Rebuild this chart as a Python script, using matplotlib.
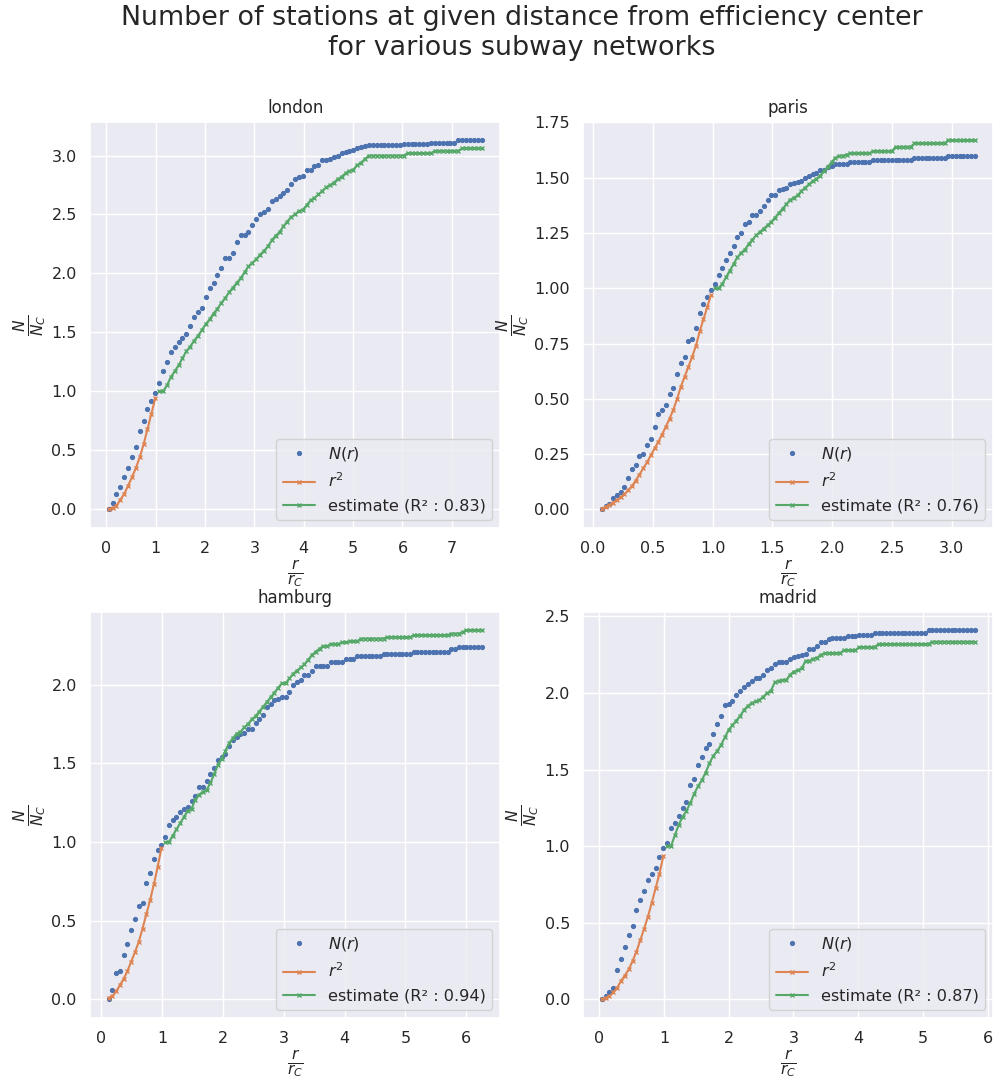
import numpy as np
import matplotlib
matplotlib.use("Agg")
import matplotlib.pyplot as plt
from matplotlib.ticker import MultipleLocator
import seaborn as sns

cities = ["london", "paris", "hamburg", "madrid"]
r_ranges = {"london": (0.05, 7.6), "paris": (0.075, 3.19),
            "hamburg": (0.12, 6.25), "madrid": (0.04, 5.80)}
r_squared = {"london": 0.83, "paris": 0.76, "hamburg": 0.94, "madrid": 0.87}

london_n = [0.00, 0.05, 0.13, 0.19, 0.27, 0.35, 0.44, 0.53, 0.66, 0.75,
            0.85, 0.92, 0.99, 1.07, 1.17, 1.25, 1.33, 1.38, 1.42, 1.45,
            1.49, 1.55, 1.63, 1.67, 1.71, 1.80, 1.88, 1.92, 1.99, 2.05,
            2.13, 2.13, 2.17, 2.27, 2.33, 2.33, 2.35, 2.41, 2.46, 2.50,
            2.52, 2.55, 2.61, 2.63, 2.66, 2.68, 2.71, 2.76, 2.80, 2.82,
            2.83, 2.88, 2.88, 2.91, 2.92, 2.96, 2.96, 2.97, 2.99, 3.00,
            3.02, 3.03, 3.04, 3.05, 3.06, 3.07, 3.08, 3.09, 3.09, 3.09,
            3.09, 3.09, 3.09, 3.09, 3.09, 3.09, 3.10, 3.10, 3.10, 3.10,
            3.10, 3.10, 3.10, 3.11, 3.11, 3.11, 3.11, 3.11, 3.11, 3.11,
            3.13, 3.13, 3.13, 3.13, 3.13, 3.13, 3.13]
london_r2 = [0.00, 0.01, 0.03, 0.08, 0.13, 0.20, 0.27, 0.35, 0.44, 0.55,
             0.68, 0.81, 0.94]
london_est = [1.00, 1.00, 1.05, 1.12, 1.17, 1.22, 1.28, 1.34, 1.38, 1.43,
              1.47, 1.52, 1.57, 1.61, 1.66, 1.70, 1.75, 1.79, 1.84, 1.88,
              1.92, 1.96, 2.01, 2.06, 2.09, 2.12, 2.16, 2.19, 2.23, 2.28,
              2.32, 2.35, 2.40, 2.44, 2.48, 2.50, 2.53, 2.54, 2.58, 2.62,
              2.64, 2.67, 2.70, 2.73, 2.75, 2.77, 2.80, 2.82, 2.85, 2.87,
              2.88, 2.92, 2.94, 2.97, 3.00, 3.00, 3.00, 3.00, 3.00, 3.00,
              3.00, 3.00, 3.00, 3.00, 3.02, 3.02, 3.02, 3.02, 3.02, 3.02,
              3.02, 3.04, 3.04, 3.04, 3.04, 3.04, 3.04, 3.04, 3.06, 3.06,
              3.06, 3.06, 3.06, 3.06]

paris_n = [0.00, 0.015, 0.026, 0.05, 0.065, 0.08, 0.10, 0.14, 0.18, 0.20,
           0.24, 0.25, 0.29, 0.32, 0.37, 0.43, 0.45, 0.47, 0.52, 0.55,
           0.61, 0.66, 0.69, 0.76, 0.77, 0.82, 0.89, 0.93, 0.96, 0.99,
           1.02, 1.06, 1.09, 1.13, 1.16, 1.19, 1.23, 1.25, 1.29, 1.30,
           1.33, 1.33, 1.35, 1.37, 1.40, 1.42, 1.42, 1.445, 1.45, 1.455,
           1.47, 1.475, 1.48, 1.485, 1.50, 1.51, 1.515, 1.52, 1.535, 1.535,
           1.55, 1.555, 1.56, 1.56, 1.56, 1.56, 1.57, 1.57, 1.57, 1.57,
           1.57, 1.57, 1.58, 1.58, 1.58, 1.58, 1.58, 1.58, 1.58, 1.58,
           1.58, 1.58, 1.58, 1.59, 1.59, 1.59, 1.59, 1.59, 1.59, 1.59,
           1.59, 1.59, 1.60, 1.60, 1.60, 1.60, 1.60, 1.60, 1.60, 1.60]
paris_r2 = [0.003, 0.011, 0.02, 0.03, 0.042, 0.054, 0.068, 0.086, 0.105, 0.13,
            0.157, 0.185, 0.212, 0.244, 0.275, 0.305, 0.338, 0.374, 0.41, 0.45,
            0.50, 0.555, 0.60, 0.645, 0.69, 0.74, 0.805, 0.86, 0.915, 0.97]
paris_est = [1.00, 1.00, 1.02, 1.05, 1.08, 1.11, 1.14, 1.16, 1.175, 1.20,
             1.22, 1.24, 1.255, 1.27, 1.285, 1.30, 1.32, 1.34, 1.36, 1.38,
             1.40, 1.41, 1.42, 1.44, 1.455, 1.47, 1.485, 1.495, 1.51, 1.53,
             1.55, 1.57, 1.59, 1.60, 1.60, 1.605, 1.61, 1.61, 1.61, 1.61,
             1.61, 1.61, 1.62, 1.62, 1.62, 1.62, 1.62, 1.62, 1.64, 1.64,
             1.64, 1.64, 1.64, 1.655, 1.655, 1.655, 1.655, 1.655, 1.655, 1.655,
             1.655, 1.655, 1.67, 1.67, 1.67, 1.67, 1.67, 1.67, 1.67, 1.67]

hamburg_n = [0.00, 0.06, 0.17, 0.18, 0.28, 0.35, 0.44, 0.51, 0.59, 0.61,
             0.74, 0.80, 0.89, 0.95, 0.98, 1.03, 1.11, 1.14, 1.16, 1.19,
             1.21, 1.22, 1.26, 1.29, 1.35, 1.35, 1.39, 1.43, 1.47, 1.52,
             1.54, 1.56, 1.61, 1.65, 1.67, 1.69, 1.695, 1.72, 1.72, 1.755,
             1.78, 1.81, 1.86, 1.88, 1.90, 1.91, 1.92, 1.925, 1.955, 2.00,
             2.015, 2.03, 2.06, 2.06, 2.09, 2.12, 2.12, 2.12, 2.12, 2.147,
             2.147, 2.147, 2.147, 2.166, 2.166, 2.166, 2.183, 2.183, 2.183, 2.183,
             2.183, 2.183, 2.183, 2.198, 2.198, 2.198, 2.198, 2.198, 2.198, 2.198,
             2.198, 2.21, 2.21, 2.21, 2.21, 2.21, 2.21, 2.21, 2.21, 2.21,
             2.21, 2.225, 2.225, 2.24, 2.24, 2.24, 2.24, 2.24, 2.24, 2.24]
hamburg_r2 = [0.01, 0.02, 0.05, 0.09, 0.13, 0.18, 0.24, 0.30, 0.365, 0.45,
              0.54, 0.63, 0.73, 0.84, 0.96]
hamburg_est = [1.00, 1.00, 1.04, 1.08, 1.12, 1.16, 1.20, 1.21, 1.27, 1.30,
               1.32, 1.33, 1.375, 1.43, 1.49, 1.53, 1.58, 1.63, 1.66, 1.69,
               1.70, 1.73, 1.75, 1.78, 1.80, 1.83, 1.86, 1.89, 1.92, 1.95,
               1.98, 2.01, 2.01, 2.04, 2.07, 2.09, 2.11, 2.13, 2.16, 2.19,
               2.21, 2.23, 2.245, 2.245, 2.26, 2.26, 2.26, 2.27, 2.27, 2.277,
               2.277, 2.277, 2.294, 2.294, 2.294, 2.294, 2.294, 2.294, 2.294, 2.303,
               2.303, 2.303, 2.303, 2.303, 2.303, 2.303, 2.315, 2.315, 2.315, 2.315,
               2.315, 2.315, 2.315, 2.315, 2.315, 2.315, 2.326, 2.326, 2.326, 2.336,
               2.347, 2.347, 2.347, 2.347, 2.347]

madrid_n = [0.00, 0.02, 0.045, 0.075, 0.19, 0.26, 0.34, 0.42, 0.48, 0.58,
            0.645, 0.71, 0.78, 0.82, 0.86, 0.93, 0.99, 1.02, 1.12, 1.15,
            1.20, 1.25, 1.29, 1.40, 1.44, 1.53, 1.58, 1.64, 1.67, 1.73,
            1.80, 1.85, 1.92, 1.93, 1.95, 1.99, 2.01, 2.04, 2.06, 2.08,
            2.095, 2.095, 2.12, 2.15, 2.16, 2.19, 2.20, 2.20, 2.20, 2.22,
            2.236, 2.24, 2.25, 2.255, 2.29, 2.29, 2.31, 2.33, 2.33, 2.35,
            2.36, 2.36, 2.36, 2.36, 2.37, 2.37, 2.37, 2.38, 2.38, 2.38,
            2.38, 2.394, 2.394, 2.394, 2.394, 2.394, 2.394, 2.394, 2.394, 2.394,
            2.394, 2.394, 2.394, 2.394, 2.394, 2.41, 2.41, 2.41, 2.41, 2.41,
            2.41, 2.41, 2.41, 2.41, 2.41, 2.41, 2.41, 2.41]
madrid_r2 = [0.00, 0.01, 0.02, 0.045, 0.075, 0.12, 0.155, 0.195, 0.25, 0.31,
             0.385, 0.46, 0.54, 0.63, 0.725, 0.82, 0.935]
madrid_est = [1.00, 1.00, 1.07, 1.14, 1.19, 1.23, 1.28, 1.34, 1.39, 1.43,
              1.48, 1.54, 1.59, 1.62, 1.66, 1.71, 1.76, 1.79, 1.82, 1.85,
              1.89, 1.915, 1.935, 1.945, 1.955, 1.975, 2.00, 2.015, 2.07, 2.08,
              2.085, 2.085, 2.12, 2.14, 2.15, 2.16, 2.21, 2.21, 2.225, 2.23,
              2.25, 2.26, 2.26, 2.26, 2.26, 2.26, 2.28, 2.28, 2.28, 2.28,
              2.30, 2.30, 2.30, 2.30, 2.30, 2.32, 2.32, 2.32, 2.32, 2.32,
              2.32, 2.32, 2.32, 2.32, 2.32, 2.32, 2.32, 2.32, 2.32, 2.335,
              2.335, 2.335, 2.335, 2.335, 2.335, 2.335, 2.335, 2.335, 2.335, 2.335,
              2.335]

series = {
    "london": (london_n, london_r2, london_est),
    "paris": (paris_n, paris_r2, paris_est),
    "hamburg": (hamburg_n, hamburg_r2, hamburg_est),
    "madrid": (madrid_n, madrid_r2, madrid_est),
}

sns.set_theme()
plt.rcParams["xtick.labelsize"] = 11.5
plt.rcParams["ytick.labelsize"] = 11.5

fig, axes = plt.subplots(2, 2, figsize=(10, 10.82), dpi=100)
fig.subplots_adjust(left=0.09, right=0.9933, top=0.8875, bottom=0.0594,
                    wspace=0.2024, hspace=0.207)

for ax, city in zip(axes.flat, cities):
    n_obs, r2, est = series[city]
    r = np.linspace(r_ranges[city][0], r_ranges[city][1], len(n_obs))
    k = len(r2)
    ax.plot(r, n_obs, ".", ms=5.5, label="$N(r)$")
    ax.plot(r[:k], r2, "x-", ms=3.5, mew=1, lw=1.5, label="$r^2$")
    ax.plot(r[k:], est, "x-", ms=3.5, mew=1, lw=1.5,
            label=f"estimate (R² : {r_squared[city]})")
    if city != "paris":
        ax.xaxis.set_major_locator(MultipleLocator(1))
    ax.set_title(city, fontsize=12)
    ax.set_xlabel(r"$\frac{r}{r_C}$", fontsize=16, labelpad=2)
    ax.set_ylabel(r"$\frac{N}{N_C}$", fontsize=16, labelpad=2)
    ax.legend(loc="lower right", fontsize=11.6)

fig.suptitle("Number of stations at given distance from efficiency center\n"
             "for various subway networks", fontsize=19.4, x=0.522, y=0.995)

plt.savefig("out.png")
